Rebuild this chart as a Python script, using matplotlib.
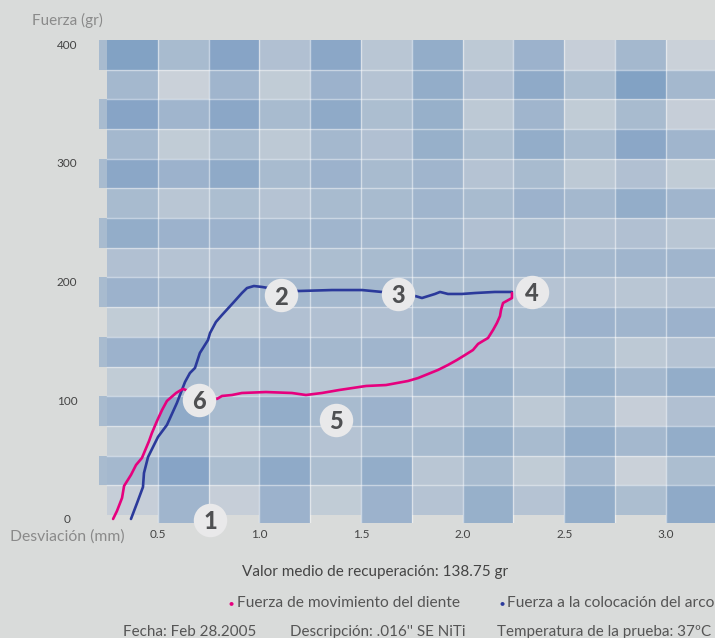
import matplotlib
matplotlib.use("Agg")
import matplotlib.pyplot as plt
from matplotlib.patches import Rectangle
import numpy as np

# curve: loading (blue) and tooth movement (pink)
colocacion_x = [0.368, 0.398, 0.427, 0.432, 0.452, 0.501, 0.545, 0.594, 0.634, 0.658,
                0.683, 0.707, 0.747, 0.757, 0.786, 0.816, 0.870, 0.914, 0.939, 0.973,
                1.013, 1.100, 1.195, 1.357, 1.505, 1.603, 1.680, 1.766, 1.800, 1.864,
                1.889, 1.928, 1.997, 2.061, 2.159, 2.243]
colocacion_y = [0, 13.5, 26.9, 38.7, 52.2, 69.1, 79.2, 97.7, 115.4, 122.9,
                127.2, 139.8, 150.7, 156.6, 165.9, 171.8, 181.9, 190.3, 194.5, 196.2,
                195.4, 193.0, 192.0, 192.8, 192.8, 191.2, 190.0, 187.8, 186.1, 189.5,
                191.2, 189.5, 189.5, 190.3, 191.2, 191.2]

movimiento_x = [2.243, 2.243, 2.199, 2.189, 2.184, 2.169, 2.150, 2.125, 2.100, 2.076,
                2.051, 2.012, 1.972, 1.928, 1.879, 1.830, 1.781, 1.731, 1.623, 1.525,
                1.392, 1.308, 1.229, 1.160, 1.032, 0.914, 0.865, 0.816, 0.791, 0.700,
                0.639, 0.624, 0.614, 0.590, 0.545, 0.521, 0.496, 0.471, 0.457, 0.422,
                0.393, 0.368, 0.334, 0.324, 0.299, 0.280]
movimiento_y = [190.3, 186.1, 181.9, 176.0, 170.9, 165.1, 159.2, 152.4, 149.9, 147.4,
                142.3, 138.1, 133.9, 129.7, 125.5, 122.1, 118.7, 116.2, 112.8, 112.0,
                108.6, 106.1, 104.4, 106.1, 106.9, 106.1, 104.4, 103.6, 101.1, 104.0,
                108.6, 109.5, 108.6, 106.1, 99.4, 91.8, 82.5, 72.4, 65.7, 51.4,
                45.5, 37.1, 27.8, 17.7, 6.7, 0]

# numbered markers on the curves
badge_labels = ["1", "2", "3", "4", "5", "6"]
badge_x = [0.757, 1.106, 1.682, 2.342, 1.377, 0.703]
badge_y = [-0.8, 188.6, 189.5, 191.2, 83.4, 100.2]

x_ticks = [0.5, 1.0, 1.5, 2.0, 2.5, 3.0]
y_ticks = [0, 100, 200, 300, 400]

# mosaic background: shade of each cell (0 light .. 1 dark), top row first
cell_shade = [
    [0.90, 0.45, 0.85, 0.35, 0.80, 0.25, 0.70, 0.20, 0.60, 0.10, 0.50, 0.05],
    [0.50, 0.05, 0.55, 0.15, 0.60, 0.30, 0.70, 0.35, 0.75, 0.40, 0.90, 0.50],
    [0.85, 0.55, 0.80, 0.45, 0.75, 0.40, 0.65, 0.20, 0.55, 0.15, 0.45, 0.10],
    [0.50, 0.15, 0.45, 0.20, 0.50, 0.35, 0.65, 0.40, 0.70, 0.45, 0.80, 0.55],
    [0.80, 0.60, 0.75, 0.45, 0.60, 0.45, 0.55, 0.30, 0.45, 0.20, 0.35, 0.15],
    [0.45, 0.25, 0.40, 0.30, 0.45, 0.45, 0.55, 0.45, 0.60, 0.50, 0.70, 0.55],
    [0.70, 0.60, 0.60, 0.50, 0.55, 0.50, 0.50, 0.35, 0.40, 0.30, 0.35, 0.25],
    [0.35, 0.30, 0.35, 0.35, 0.40, 0.45, 0.55, 0.50, 0.55, 0.50, 0.55, 0.55],
    [0.60, 0.55, 0.55, 0.50, 0.50, 0.50, 0.40, 0.45, 0.30, 0.30, 0.25, 0.30],
    [0.15, 0.25, 0.20, 0.35, 0.35, 0.35, 0.50, 0.50, 0.45, 0.60, 0.55, 0.60],
    [0.60, 0.70, 0.55, 0.60, 0.50, 0.55, 0.35, 0.35, 0.30, 0.40, 0.20, 0.30],
    [0.15, 0.45, 0.25, 0.35, 0.25, 0.30, 0.50, 0.65, 0.45, 0.65, 0.50, 0.70],
    [0.55, 0.75, 0.45, 0.70, 0.45, 0.60, 0.30, 0.45, 0.20, 0.45, 0.10, 0.35],
    [0.15, 0.45, 0.20, 0.45, 0.30, 0.45, 0.45, 0.65, 0.45, 0.70, 0.50, 0.70],
    [0.50, 0.85, 0.40, 0.75, 0.40, 0.70, 0.25, 0.45, 0.15, 0.50, 0.05, 0.40],
    [0.10, 0.55, 0.10, 0.60, 0.15, 0.60, 0.30, 0.65, 0.30, 0.70, 0.40, 0.75],
]

BG = "#d9dbda"
LIGHT = np.array([206, 212, 218]) / 255
DARK = np.array([122, 156, 194]) / 255
PINK = "#e6007e"
BLUE = "#2b3a9b"

plt.rcParams["font.family"] = ["Lato", "DejaVu Sans"]

fig = plt.figure(figsize=(7.15, 6.38), dpi=100, facecolor=BG)
W, H = 715, 638
ax = fig.add_axes([99 / W, 1 - 523 / H, 616 / W, 483 / H])
ax.set_facecolor(BG)
ax.set_frame_on(False)

x_left = 0.25 - 8 / 203.2
y_top = 403.4
y_bot = -3.4
ax.set_xlim(x_left, 0.25 + 608 / 203.2)
ax.set_ylim(y_bot, y_top)


def shade(v):
    return tuple(LIGHT + (DARK - LIGHT) * v)


n_rows = len(cell_shade)
n_cols = len(cell_shade[0])
for r in range(n_rows):
    top = y_top - 25 * r
    bottom = top - 25 if r < n_rows - 1 else y_bot
    if r % 2 == 0:
        ax.add_patch(Rectangle((x_left, bottom), 0.25 - x_left, top - bottom,
                               color=shade(0.45), lw=0, zorder=0))
    for c in range(n_cols):
        b = bottom
        if r == n_rows - 1 and c % 2 == 0:
            b = 3.4
        ax.add_patch(Rectangle((0.25 + 0.25 * c, b), 0.25, top - b,
                               color=shade(cell_shade[r][c]), lw=0, zorder=0))

# white grid lines between cells
for c in range(1, n_cols + 1):
    ax.plot([0.25 + 0.25 * c] * 2, [y_bot, y_top], color="white", alpha=0.5, lw=1, zorder=1)
for r in range(1, n_rows):
    ax.plot([0.25, 3.3], [y_top - 25 * r] * 2, color="white", alpha=0.45, lw=1, zorder=1)

ax.plot(colocacion_x, colocacion_y, color=BLUE, lw=1.9, zorder=3, solid_capstyle="round")
ax.plot(movimiento_x, movimiento_y, color=PINK, lw=1.9, zorder=3, solid_capstyle="round")

ax.scatter(badge_x, badge_y, s=580, color="#e9e9ea", zorder=4, clip_on=False, lw=0)
for lab, bx, by in zip(badge_labels, badge_x, badge_y):
    ax.text(bx, by, lab, ha="center", va="center_baseline", fontsize=17,
            fontweight="black", color="#4f5052", zorder=5, clip_on=False)

ax.set_xticks(x_ticks)
ax.set_xticklabels([f"{v:.1f}" for v in x_ticks])
ax.set_yticks(y_ticks)
ax.set_yticklabels([str(v) for v in y_ticks])
ax.tick_params(length=0, labelsize=8.5, labelcolor="#444444")
ax.tick_params(axis="x", pad=4)
ax.tick_params(axis="y", pad=23)
for lab in ax.get_yticklabels():
    lab.set_horizontalalignment("center")

fig.text(32 / W, 1 - 20 / H, "Fuerza (gr)", fontsize=11, color="#8a8a8a", va="center")
fig.text(10 / W, 1 - 537 / H, "Desviación (mm)", fontsize=11.3, color="#8a8a8a", va="center")

fig.text(375 / W, 1 - 572 / H, "Valor medio de recuperación: 138.75 gr",
         fontsize=11, color="#444444", ha="center", va="center")

fig.text(231 / W, 1 - 603 / H, "●", fontsize=6, color=PINK, ha="center", va="center")
fig.text(237 / W, 1 - 603 / H, "Fuerza de movimiento del diente",
         fontsize=11.2, color="#555555", va="center")
fig.text(502 / W, 1 - 603 / H, "●", fontsize=6, color=BLUE, ha="center", va="center")
fig.text(507 / W, 1 - 603 / H, "Fuerza a la colocación del arco",
         fontsize=11.2, color="#555555", va="center")

fig.text(123 / W, 1 - 632 / H, "Fecha: Feb 28.2005", fontsize=10.9, color="#555555", va="center")
fig.text(290 / W, 1 - 632 / H, "Descripción: .016'' SE NiTi", fontsize=10.9, color="#555555", va="center")
fig.text(497 / W, 1 - 632 / H, "Temperatura de la prueba: 37ºC", fontsize=10.9, color="#555555", va="center")

fig.savefig("out.png", dpi=100, facecolor=BG)
